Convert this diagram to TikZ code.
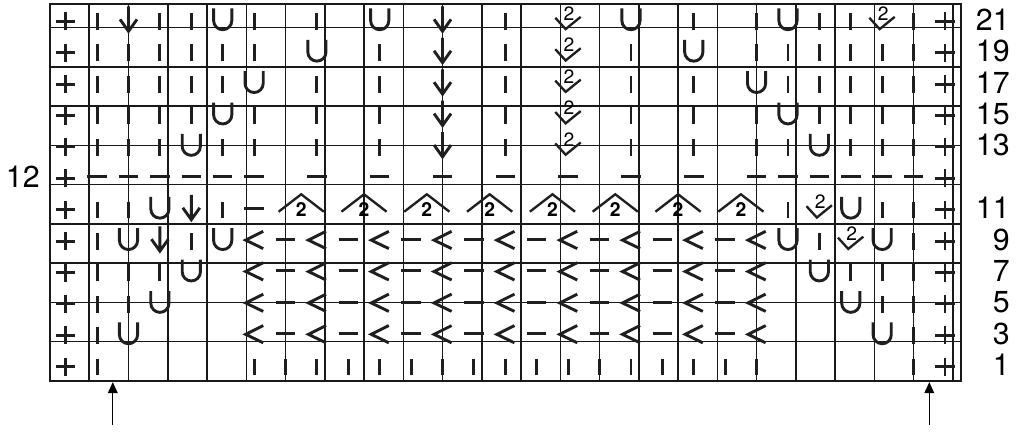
\documentclass[tikz,border=0pt]{standalone}
\usepackage{fontspec}
\setmainfont{TeX Gyre Heros}
\usetikzlibrary{arrows.meta}

\tikzset{
	gridline/.style={line width=1.1pt, draw=black!90},
	frameline/.style={line width=1.6pt, draw=black!90},
	symline/.style={line width=2.1pt, draw=black!88},
	thinsym/.style={line width=1.7pt, draw=black!88},
	rowlabel/.style={anchor=east, inner sep=0pt, font=\fontsize{22}{24}\selectfont},
	twolabel/.style={inner sep=0pt, font=\fontsize{14}{14}\selectfont},
	pointer/.style={line width=1pt, -{Triangle[length=8pt,width=7pt]}},
	% one pic for each chart symbol, drawn in the unit cell
	pics/symo/.style={code={}},
	pics/symp/.style={code={\draw[symline] (0.19,0.45)--(0.81,0.45) (0.5,0.16)--(0.5,0.74);}},
	pics/symb/.style={code={\draw[symline] (0.5,0.17)--(0.5,0.71);}},
	pics/symd/.style={code={\draw[symline] (0.19,0.5)--(0.81,0.5);}},
	pics/symu/.style={code={\draw[symline] (0.21,0.86)--(0.21,0.47) arc[start angle=180,end angle=360,radius=0.29]--(0.79,0.86);}},
	pics/syma/.style={code={\draw[symline] (0.5,0.92)--(0.5,0.16) (0.23,0.51)--(0.5,0.13)--(0.77,0.51);}},
	pics/syml/.style={code={\draw[symline] (0.79,0.76)--(0.23,0.48)--(0.79,0.21);}},
	pics/symt/.style={code={\draw[thinsym] (0.09,0.56)--(0.42,0.2)--(0.9,0.59); \node[twolabel] (two) at (0.53,0.69) {2};}},
	pics/symc/.style={code={\draw[thinsym] (0.28,0.385)--(1,0.94)--(1.72,0.385); \node[twolabel, font=\bfseries\fontsize{14}{14}\selectfont] (two) at (1,0.46) {2};}},
}

\newcommand{\chartrow}[2]{\foreach \s [count=\i from 0] in {#2} {\pic at (\i,#1) {sym\s};}}

\begin{document}
\begin{tikzpicture}[x=0.8cm, y=0.8cm]
	\useasboundingbox (-1.592,-1.624) rectangle (31.016,12.127);
	
	%Drawing the grid
	\draw[gridline] (0,0) grid (29,12);
	\draw[frameline] (0,0) rectangle (29,12);
	
	%Rows, from the top down
	\chartrow{11}{p,b,a,b,b,u,b,o,b,o,u,o,a,o,b,o,t,o,u,o,b,o,b,u,b,b,t,b,p}
	\chartrow{10}{p,b,b,b,b,b,b,o,u,o,b,o,a,o,b,o,t,o,b,o,u,o,b,b,b,b,b,b,p}
	\chartrow{9}{p,b,b,b,b,b,u,o,b,o,b,o,a,o,b,o,t,o,b,o,b,o,u,b,b,b,b,b,p}
	\chartrow{8}{p,b,b,b,b,u,b,o,b,o,b,o,a,o,b,o,t,o,b,o,b,o,b,u,b,b,b,b,p}
	\chartrow{7}{p,b,b,b,u,b,b,o,b,o,b,o,a,o,b,o,t,o,b,o,b,o,b,b,u,b,b,b,p}
	\chartrow{6}{p,d,d,d,d,d,d,o,d,o,d,o,d,o,d,o,d,o,d,o,d,o,d,d,d,d,d,d,p}
	\chartrow{5}{p,b,b,u,a,b,d,c,o,c,o,c,o,c,o,c,o,c,o,c,o,c,o,b,t,u,b,b,p}
	\chartrow{4}{p,b,u,a,b,u,l,d,l,d,l,d,l,d,l,d,l,d,l,d,l,d,l,u,b,t,u,b,p}
	\chartrow{3}{p,b,b,b,u,o,l,d,l,d,l,d,l,d,l,d,l,d,l,d,l,d,l,o,u,b,b,b,p}
	\chartrow{2}{p,b,b,u,o,o,l,d,l,d,l,d,l,d,l,d,l,d,l,d,l,d,l,o,o,u,b,b,p}
	\chartrow{1}{p,b,u,o,o,o,l,d,l,d,l,d,l,d,l,d,l,d,l,d,l,d,l,o,o,o,u,b,p}
	\chartrow{0}{p,b,o,o,o,o,b,b,b,b,b,b,b,b,b,b,b,b,b,b,b,b,b,o,o,o,o,b,p}
	
	%Row numbers
	\foreach \y/\n in {11/21,10/19,9/17,8/15,7/13,5/11,4/9,3/7,2/5,1/3,0/1}
		\node[rowlabel] (row\n) at (30.57,\y+0.5) {\n};
	\node[rowlabel] (row12) at (-0.32,6.5) {12};
	
	%Arrows under the chart
	\coordinate (leftfoot) at (2,-1.4);
	\coordinate (lefttip) at (2,-0.04);
	\coordinate (rightfoot) at (28,-1.4);
	\coordinate (righttip) at (28,-0.04);
	\draw[pointer] (leftfoot)--(lefttip);
	\draw[pointer] (rightfoot)--(righttip);
	
\end{tikzpicture}
\end{document}
